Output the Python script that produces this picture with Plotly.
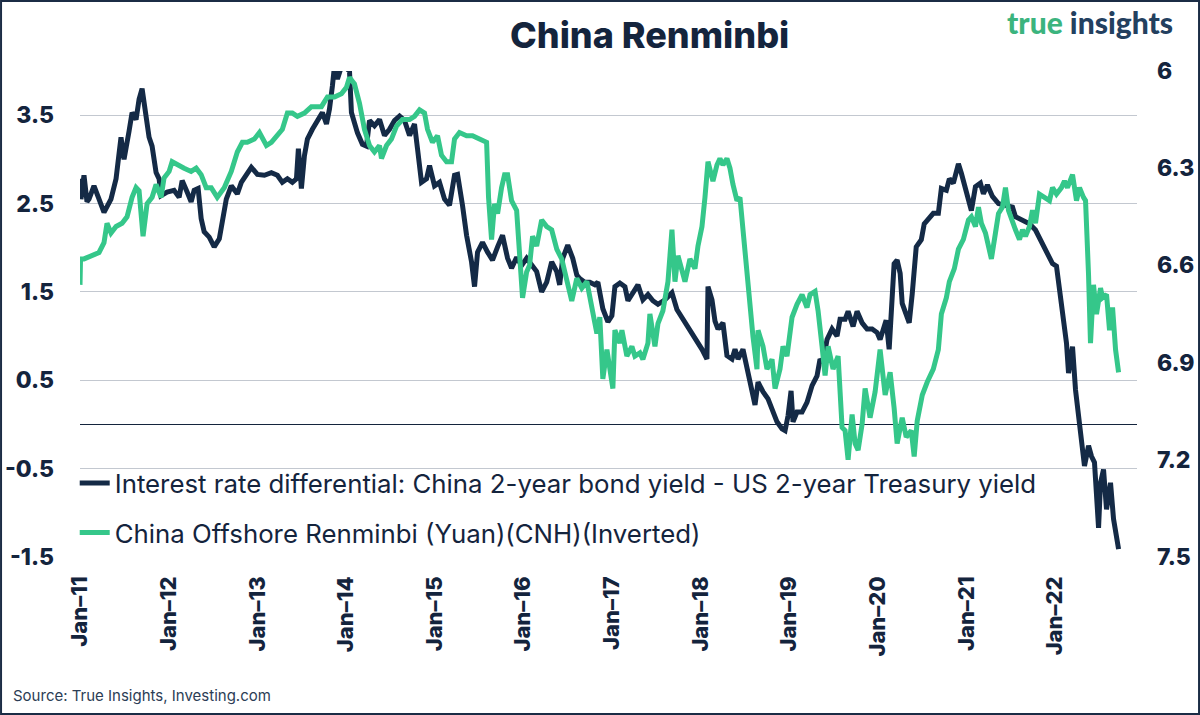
import plotly.graph_objects as go
import pandas as pd

# interest rate differential (China 2y - US 2y), left axis; time in decimal years
diff_t = [2011.000, 2011.011, 2011.045, 2011.079, 2011.102, 2011.158, 2011.215, 2011.271, 2011.350, 2011.407,
          2011.463, 2011.497, 2011.554, 2011.588, 2011.633, 2011.667, 2011.701, 2011.746, 2011.780, 2011.814,
          2011.859, 2011.893, 2011.915, 2011.983, 2012.062, 2012.119, 2012.153, 2012.209, 2012.254, 2012.288,
          2012.333, 2012.367, 2012.401, 2012.458, 2012.514, 2012.571, 2012.605, 2012.650, 2012.706, 2012.774,
          2012.819, 2012.876, 2012.932, 2013.000, 2013.079, 2013.158, 2013.226, 2013.282, 2013.339, 2013.395,
          2013.441, 2013.463, 2013.497, 2013.531, 2013.565, 2013.621, 2013.678, 2013.734, 2013.780, 2013.814,
          2013.847, 2013.870, 2013.904, 2013.949, 2013.983, 2014.040, 2014.062, 2014.096, 2014.130, 2014.186,
          2014.232, 2014.266, 2014.322, 2014.379, 2014.435, 2014.492, 2014.548, 2014.605, 2014.661, 2014.718,
          2014.774, 2014.808, 2014.853, 2014.910, 2014.944, 2015.000, 2015.056, 2015.113, 2015.169, 2015.226,
          2015.260, 2015.316, 2015.362, 2015.418, 2015.452, 2015.486, 2015.542, 2015.599, 2015.655, 2015.712,
          2015.768, 2015.825, 2015.870, 2015.927, 2015.983, 2016.040, 2016.096, 2016.153, 2016.209, 2016.266,
          2016.322, 2016.379, 2016.412, 2016.446, 2016.503, 2016.559, 2016.605, 2016.638, 2016.695, 2016.751,
          2016.808, 2016.842, 2016.898, 2016.955, 2017.000, 2017.034, 2017.090, 2017.147, 2017.181, 2017.237,
          2017.294, 2017.350, 2017.407, 2017.463, 2017.520, 2017.599, 2017.678, 2017.734, 2017.802, 2017.881,
          2017.960, 2018.017, 2018.073, 2018.085, 2018.130, 2018.164, 2018.198, 2018.254, 2018.299, 2018.356,
          2018.390, 2018.424, 2018.480, 2018.525, 2018.582, 2018.616, 2018.650, 2018.706, 2018.763, 2018.819,
          2018.864, 2018.921, 2018.955, 2018.989, 2019.023, 2019.045, 2019.090, 2019.147, 2019.203, 2019.260,
          2019.316, 2019.350, 2019.384, 2019.429, 2019.486, 2019.542, 2019.576, 2019.633, 2019.667, 2019.723,
          2019.768, 2019.825, 2019.881, 2019.938, 2019.994, 2020.028, 2020.073, 2020.096, 2020.130, 2020.164,
          2020.186, 2020.220, 2020.254, 2020.277, 2020.322, 2020.356, 2020.390, 2020.435, 2020.492, 2020.525,
          2020.559, 2020.627, 2020.684, 2020.718, 2020.774, 2020.808, 2020.853, 2020.910, 2020.944, 2021.000,
          2021.056, 2021.102, 2021.158, 2021.192, 2021.237, 2021.294, 2021.362, 2021.441, 2021.520, 2021.554,
          2021.633, 2021.712, 2021.780, 2021.859, 2021.915, 2021.972, 2022.017, 2022.051, 2022.085, 2022.130,
          2022.153, 2022.198, 2022.232, 2022.277, 2022.299, 2022.333, 2022.379, 2022.412, 2022.446, 2022.492,
          2022.514, 2022.548, 2022.582, 2022.627, 2022.661, 2022.695, 2022.718]
diff_v = [2.78, 2.55, 2.82, 2.52, 2.55, 2.70, 2.55, 2.40, 2.55, 2.78,
          3.25, 3.00, 3.32, 3.53, 3.45, 3.68, 3.80, 3.49, 3.25, 3.15,
          2.85, 2.78, 2.59, 2.63, 2.65, 2.57, 2.76, 2.63, 2.52, 2.65,
          2.67, 2.33, 2.18, 2.12, 2.01, 2.10, 2.33, 2.55, 2.70, 2.61,
          2.74, 2.83, 2.91, 2.83, 2.82, 2.85, 2.82, 2.74, 2.78, 2.74,
          2.78, 3.12, 2.67, 3.04, 3.23, 3.34, 3.44, 3.53, 3.40, 3.57,
          3.83, 4.05, 3.91, 4.05, 4.05, 4.00, 3.53, 3.42, 3.30, 3.17,
          3.15, 3.44, 3.38, 3.45, 3.27, 3.34, 3.44, 3.49, 3.44, 3.27,
          3.40, 3.12, 2.74, 2.78, 2.93, 2.70, 2.74, 2.55, 2.48, 2.82,
          2.83, 2.48, 2.14, 1.84, 1.56, 1.95, 2.06, 1.95, 1.86, 2.01,
          2.14, 1.88, 1.77, 1.89, 1.80, 1.88, 1.80, 1.73, 1.50, 1.61,
          1.84, 1.73, 1.58, 1.88, 2.03, 1.88, 1.69, 1.65, 1.61, 1.61,
          1.58, 1.61, 1.31, 1.16, 1.23, 1.56, 1.60, 1.56, 1.40, 1.49,
          1.58, 1.41, 1.47, 1.40, 1.36, 1.41, 1.49, 1.30, 1.19, 1.08,
          0.93, 0.85, 0.74, 1.56, 1.41, 1.17, 1.08, 1.15, 0.78, 0.74,
          0.85, 0.74, 0.85, 0.63, 0.37, 0.22, 0.48, 0.37, 0.29, 0.14,
          0.03, -0.05, -0.07, 0.10, 0.38, 0.03, 0.14, 0.14, 0.25, 0.44,
          0.55, 0.74, 0.70, 0.96, 1.08, 1.00, 1.19, 1.19, 1.28, 1.11,
          1.28, 1.15, 1.08, 1.08, 1.04, 0.96, 1.11, 1.18, 0.85, 1.33,
          1.82, 1.86, 1.71, 1.37, 1.26, 1.15, 1.48, 2.01, 2.09, 2.27,
          2.31, 2.39, 2.39, 2.67, 2.65, 2.78, 2.73, 2.95, 2.84, 2.65,
          2.42, 2.69, 2.73, 2.61, 2.71, 2.58, 2.50, 2.48, 2.46, 2.35,
          2.31, 2.27, 2.20, 2.05, 1.94, 1.82, 1.79, 1.52, 1.22, 0.92,
          0.58, 0.88, 0.39, -0.02, -0.21, -0.47, -0.24, -0.36, -0.43, -1.17,
          -0.66, -0.51, -0.96, -0.66, -1.07, -1.30, -1.41]

# offshore renminbi USD/CNH, right axis (inverted)
cnh_t = [2011.000, 2011.006, 2011.045, 2011.124, 2011.215, 2011.271, 2011.305, 2011.350, 2011.407, 2011.475,
         2011.531, 2011.588, 2011.633, 2011.667, 2011.712, 2011.757, 2011.814, 2011.859, 2011.915, 2011.949,
         2012.006, 2012.040, 2012.096, 2012.175, 2012.254, 2012.311, 2012.367, 2012.424, 2012.480, 2012.548,
         2012.627, 2012.706, 2012.774, 2012.831, 2012.887, 2012.966, 2013.023, 2013.102, 2013.158, 2013.215,
         2013.282, 2013.339, 2013.395, 2013.452, 2013.531, 2013.610, 2013.723, 2013.791, 2013.870, 2013.949,
         2014.006, 2014.040, 2014.096, 2014.153, 2014.209, 2014.266, 2014.322, 2014.379, 2014.401, 2014.458,
         2014.514, 2014.571, 2014.638, 2014.718, 2014.774, 2014.831, 2014.887, 2014.921, 2014.977, 2015.034,
         2015.079, 2015.136, 2015.192, 2015.226, 2015.282, 2015.362, 2015.429, 2015.508, 2015.588, 2015.610,
         2015.644, 2015.678, 2015.712, 2015.757, 2015.791, 2015.825, 2015.870, 2015.927, 2015.960, 2015.994,
         2016.040, 2016.073, 2016.107, 2016.153, 2016.209, 2016.266, 2016.322, 2016.379, 2016.435, 2016.492,
         2016.548, 2016.605, 2016.661, 2016.718, 2016.774, 2016.831, 2016.864, 2016.898, 2016.944, 2016.977,
         2017.011, 2017.034, 2017.090, 2017.113, 2017.169, 2017.226, 2017.260, 2017.316, 2017.350, 2017.407,
         2017.429, 2017.486, 2017.520, 2017.576, 2017.633, 2017.678, 2017.712, 2017.746, 2017.791, 2017.825,
         2017.881, 2017.938, 2017.972, 2018.017, 2018.051, 2018.085, 2018.141, 2018.186, 2018.220, 2018.254,
         2018.299, 2018.333, 2018.367, 2018.412, 2018.446, 2018.480, 2018.525, 2018.559, 2018.593, 2018.638,
         2018.650, 2018.706, 2018.751, 2018.808, 2018.842, 2018.898, 2018.932, 2018.977, 2019.034, 2019.090,
         2019.147, 2019.203, 2019.237, 2019.294, 2019.328, 2019.373, 2019.407, 2019.441, 2019.497, 2019.554,
         2019.599, 2019.633, 2019.667, 2019.712, 2019.746, 2019.780, 2019.825, 2019.859, 2019.915, 2019.972,
         2020.028, 2020.085, 2020.141, 2020.186, 2020.220, 2020.277, 2020.322, 2020.379, 2020.412, 2020.446,
         2020.503, 2020.559, 2020.627, 2020.684, 2020.718, 2020.774, 2020.808, 2020.864, 2020.910, 2020.966,
         2021.023, 2021.056, 2021.102, 2021.136, 2021.169, 2021.215, 2021.249, 2021.282, 2021.328, 2021.362,
         2021.407, 2021.441, 2021.475, 2021.520, 2021.554, 2021.599, 2021.633, 2021.667, 2021.712, 2021.746,
         2021.780, 2021.825, 2021.881, 2021.938, 2021.972, 2022.017, 2022.073, 2022.107, 2022.141, 2022.198,
         2022.243, 2022.277, 2022.322, 2022.345, 2022.379, 2022.401, 2022.435, 2022.469, 2022.514, 2022.537,
         2022.582, 2022.616, 2022.650, 2022.684, 2022.718]
cnh_v = [6.66, 6.58, 6.58, 6.57, 6.56, 6.53, 6.47, 6.50, 6.48, 6.47,
         6.45, 6.39, 6.36, 6.37, 6.51, 6.41, 6.39, 6.35, 6.39, 6.33,
         6.31, 6.28, 6.29, 6.30, 6.31, 6.30, 6.32, 6.36, 6.36, 6.39,
         6.36, 6.31, 6.25, 6.22, 6.22, 6.21, 6.19, 6.23, 6.22, 6.20,
         6.18, 6.13, 6.13, 6.14, 6.13, 6.11, 6.11, 6.08, 6.08, 6.07,
         6.05, 6.02, 6.04, 6.10, 6.18, 6.23, 6.25, 6.23, 6.27, 6.23,
         6.21, 6.17, 6.15, 6.15, 6.14, 6.12, 6.13, 6.18, 6.22, 6.20,
         6.26, 6.28, 6.28, 6.21, 6.19, 6.20, 6.20, 6.21, 6.22, 6.39,
         6.52, 6.41, 6.44, 6.36, 6.32, 6.32, 6.40, 6.43, 6.56, 6.70,
         6.62, 6.60, 6.51, 6.54, 6.46, 6.48, 6.49, 6.55, 6.58, 6.64,
         6.71, 6.64, 6.67, 6.65, 6.74, 6.81, 6.76, 6.95, 6.86, 6.92,
         6.98, 6.80, 6.84, 6.80, 6.88, 6.85, 6.88, 6.87, 6.89, 6.84,
         6.75, 6.85, 6.78, 6.74, 6.65, 6.49, 6.65, 6.57, 6.61, 6.65,
         6.58, 6.61, 6.54, 6.48, 6.39, 6.28, 6.34, 6.29, 6.27, 6.29,
         6.27, 6.30, 6.35, 6.40, 6.39, 6.49, 6.61, 6.73, 6.82, 6.92,
         6.80, 6.85, 6.92, 6.89, 6.98, 6.92, 6.85, 6.88, 6.76, 6.72,
         6.69, 6.73, 6.69, 6.68, 6.74, 6.85, 6.94, 6.85, 6.92, 6.88,
         7.10, 7.11, 7.20, 7.06, 7.15, 7.17, 7.09, 6.98, 7.07, 6.99,
         6.86, 7.00, 6.93, 7.04, 7.15, 7.07, 7.13, 7.11, 7.19, 7.08,
         7.00, 6.96, 6.92, 6.86, 6.75, 6.70, 6.65, 6.61, 6.55, 6.52,
         6.46, 6.45, 6.48, 6.42, 6.47, 6.50, 6.54, 6.58, 6.50, 6.44,
         6.42, 6.36, 6.43, 6.47, 6.49, 6.52, 6.49, 6.51, 6.48, 6.43,
         6.47, 6.38, 6.39, 6.40, 6.36, 6.38, 6.36, 6.34, 6.36, 6.32,
         6.40, 6.36, 6.39, 6.40, 6.63, 6.84, 6.66, 6.75, 6.67, 6.70,
         6.69, 6.80, 6.73, 6.86, 6.93]

left_ticks = [-1.5, -0.5, 0.5, 1.5, 2.5, 3.5]
right_ticks = [6, 6.3, 6.6, 6.9, 7.2, 7.5]
year_ticks = list(range(2011, 2023))

NAVY = "#142a46"
GREEN = "#35c78a"
TEXT = "#14243d"


def to_date(t):
    y = int(t)
    start = pd.Timestamp(y, 1, 1)
    return start + (pd.Timestamp(y + 1, 1, 1) - start) * (t - y)


diff_dates = [to_date(t) for t in diff_t]
cnh_dates = [to_date(t) for t in cnh_t]
tick_dates = [pd.Timestamp(y, 1, 1) for y in year_ticks]
tick_text = ["Jan–" + str(y)[2:] for y in year_ticks]

fig = go.Figure()
fig.add_trace(go.Scatter(
    x=diff_dates, y=diff_v, mode="lines", legendgroup="a",
    name="Interest rate differential: China 2-year bond yield - US 2-year Treasury yield",
    line=dict(color=NAVY, width=5)))
fig.add_trace(go.Scatter(
    x=cnh_dates, y=cnh_v, mode="lines", yaxis="y2", legendgroup="b",
    name="China Offshore Renminbi (Yuan)(CNH)(Inverted)",
    line=dict(color=GREEN, width=5)))

fig.update_layout(
    width=1200, height=715,
    margin=dict(l=80, r=63, t=71, b=158),
    plot_bgcolor="white", paper_bgcolor="white",
    font=dict(family="Inter, Lato, sans-serif", color=TEXT),
    showlegend=True,
    legend=dict(x=-0.005, y=0.2, xanchor="left", yanchor="top",
                bgcolor="rgba(0,0,0,0)", font=dict(size=25.8, color=TEXT),
                tracegroupgap=13, itemwidth=30),
    xaxis=dict(range=[pd.Timestamp(2011, 1, 1), pd.Timestamp(2022, 12, 5)],
               tickvals=tick_dates, ticktext=tick_text, tickangle=-90,
               showgrid=False, showline=False, zeroline=False, ticks="",
               ticklabelstandoff=14, automargin=False,
               tickfont=dict(size=22, family="Inter, sans-serif", weight=800, color=TEXT)),
    yaxis=dict(range=[-1.5, 4.0], tickvals=left_ticks, ticktext=[str(v) for v in left_ticks],
               showgrid=True, gridcolor="#c3c8d0", gridwidth=1,
               zeroline=True, zerolinecolor="#14243d", zerolinewidth=1,
               showline=False, ticks="", ticklabelstandoff=25, automargin=False,
               tickfont=dict(size=23, weight=800, color=TEXT)),
    yaxis2=dict(range=[7.5, 6.0], overlaying="y", side="right",
                tickvals=right_ticks, ticktext=["6", "6.3", "6.6", "6.9", "7.2", "7.5"],
                showgrid=False, zeroline=False, showline=False, ticks="",
                ticklabelstandoff=19, automargin=False,
                tickfont=dict(size=23, weight=800, color=TEXT)),
)

fig.add_annotation(text="China Renminbi", xref="paper", yref="paper",
                   x=0.539, y=1.074, xanchor="center", yanchor="middle", showarrow=False,
                   font=dict(size=36, weight=800, color=TEXT))
fig.add_annotation(text="<span style='color:#3bb47e'>true</span> <span style='color:#23405f'>insights</span>",
                   xref="paper", yref="paper", x=1.0355, y=1.1, xanchor="right", yanchor="middle",
                   showarrow=False, font=dict(size=30, family="Lato, sans-serif", weight=900))
fig.add_annotation(text="Source: True Insights, Investing.com", xref="paper", yref="paper",
                   x=-0.065, y=-0.285, xanchor="left", yanchor="middle", showarrow=False,
                   font=dict(size=15, color="#2c3d55"))
# frame around whole picture
fig.add_shape(type="rect", xref="paper", yref="paper",
              x0=-0.0747, x1=1.0587, y0=-0.323, y1=1.144,
              line=dict(color="#1b2c45", width=2), fillcolor="rgba(0,0,0,0)", layer="above")

fig.write_html("out.html", config={"displayModeBar": False},
               post_script="document.body.style.margin='0px';")
